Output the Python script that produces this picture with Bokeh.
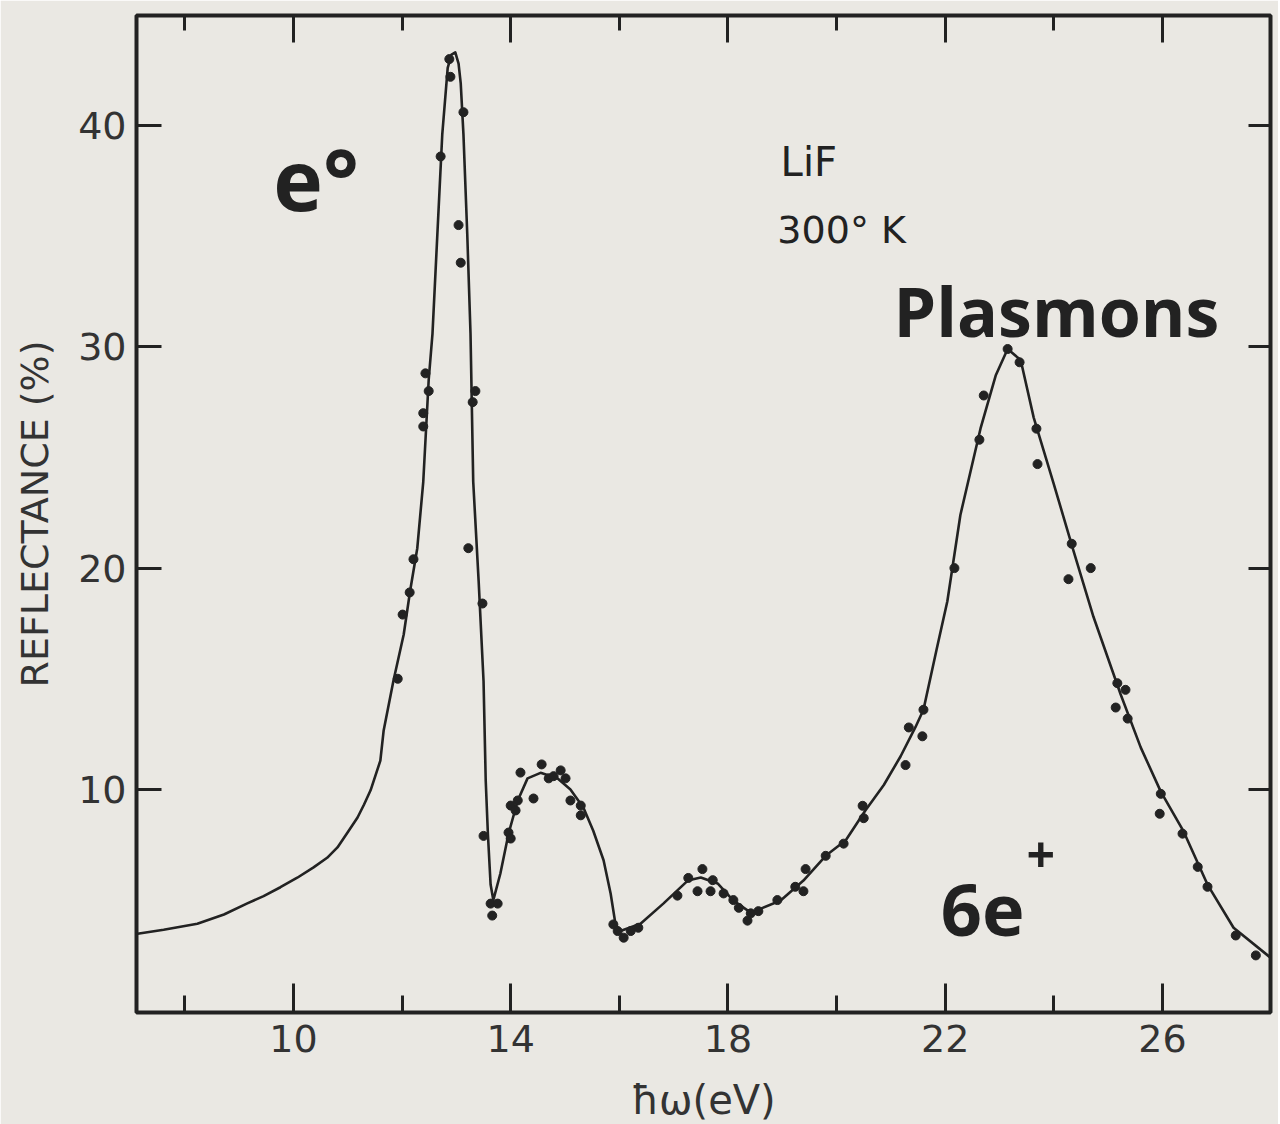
from bokeh.plotting import figure
from bokeh.models import LinearAxis, FixedTicker, Label, Range1d
from bokeh.embed import file_html
from bokeh.resources import INLINE

# ---- data (photon energy in eV, reflectance in %) ----
curve_x = [7.13, 7.61, 8.23, 8.72, 9.15, 9.45, 9.76, 10.07, 10.37, 10.62, 10.81, 10.99,
           11.18, 11.30, 11.42, 11.60, 11.66, 11.84,
           12.03, 12.15, 12.28, 12.39, 12.49, 12.56, 12.65, 12.74, 12.84, 12.91, 12.98,
           13.04, 13.08, 13.13, 13.20, 13.26, 13.31, 13.41, 13.50, 13.54, 13.58, 13.63,
           13.68, 13.81, 13.96, 14.13, 14.31, 14.55, 14.86, 15.10, 15.34, 15.52, 15.71,
           15.84, 15.93, 16.02, 16.39, 16.81, 17.26, 17.50, 17.81, 18.10, 18.42, 18.97,
           19.39, 19.80, 20.17, 20.53, 20.87, 21.18, 21.45, 21.60, 21.84, 22.04, 22.28,
           22.65, 22.93, 23.15, 23.39, 23.63, 24.00, 24.36, 24.73, 25.23, 25.60, 25.97,
           26.39, 26.83, 27.31, 27.99]
curve_y = [3.48, 3.66, 3.93, 4.35, 4.85, 5.18, 5.58, 6.01, 6.48, 6.91, 7.38, 8.03,
           8.73, 9.32, 9.96, 11.3, 12.65, 14.9,
           17.0, 19.0, 20.9, 23.9, 28.5, 30.6, 35.1, 39.6, 42.6, 43.2, 43.3,
           42.8, 41.9, 39.6, 35.1, 30.6, 23.9, 19.4, 14.9, 10.4, 8.0, 5.7,
           5.0, 6.2, 8.0, 9.5, 10.5, 10.75, 10.5, 10.0, 9.17, 8.13, 6.8,
           5.3, 3.9, 3.6, 3.93, 4.84, 5.88, 6.02, 5.75, 4.98, 4.43, 4.98,
           5.88, 7.0, 7.7, 9.05, 10.2, 11.5, 12.8, 13.6, 16.3, 18.5, 22.4,
           26.3, 28.7, 29.9, 29.4, 26.8, 23.8, 20.8, 17.8, 14.3, 11.9, 9.9,
           8.1, 5.7, 3.75, 2.4]

pts_x = [11.92, 12.01, 12.14, 12.21, 12.39, 12.39, 12.43, 12.49, 12.71, 12.87, 12.89,
         13.04, 13.08, 13.13, 13.22, 13.30, 13.35, 13.48, 13.50,
         13.63, 13.66, 13.76, 13.96, 14.00, 14.00, 14.13, 14.09, 14.18, 14.42, 14.57,
         14.70, 14.79, 14.92, 15.01, 15.10, 15.29, 15.29,
         15.89, 15.97, 16.08, 16.21, 16.35, 17.07, 17.27, 17.44, 17.53, 17.68, 17.72,
         17.92, 18.10, 18.20, 18.36, 18.42, 18.56, 18.91, 19.24, 19.39, 19.43, 19.80,
         20.13, 20.48, 20.50, 21.27, 21.33, 21.58, 21.60, 22.17, 22.63, 22.71, 23.15,
         23.37, 23.68, 23.70, 24.27, 24.33, 24.68, 25.14, 25.17, 25.32, 25.36, 25.97,
         25.95, 26.37, 26.65, 26.83, 27.35, 27.72]
pts_y = [15.0, 17.9, 18.9, 20.4, 26.4, 27.0, 28.8, 28.0, 38.6, 43.0, 42.2,
         35.5, 33.8, 40.6, 20.9, 27.5, 28.0, 18.4, 7.9,
         4.84, 4.30, 4.84, 8.05, 7.78, 9.27, 9.50, 9.05, 10.76, 9.59, 11.13,
         10.5, 10.6, 10.86, 10.5, 9.5, 9.27, 8.83,
         3.9, 3.6, 3.3, 3.6, 3.75, 5.2, 6.0, 5.4, 6.4, 5.4, 5.9,
         5.3, 5.0, 4.65, 4.07, 4.4, 4.5, 5.0, 5.6, 5.4, 6.4, 7.0,
         7.55, 9.26, 8.7, 11.1, 12.8, 12.4, 13.6, 20.0, 25.8, 27.8, 29.9,
         29.3, 26.3, 24.7, 19.5, 21.1, 20.0, 13.7, 14.8, 14.5, 13.2, 9.8,
         8.9, 8.0, 6.5, 5.6, 3.4, 2.5]

x_major = [10, 14, 18, 22, 26]
x_minor = [8, 12, 16, 20, 24]
y_major = [10, 20, 30, 40]

BG = "#eae8e3"
INK = "#222222"
LETTER = "DejaVu Sans"
HAND = "Open Sans"

p = figure(frame_width=1134, frame_height=997,
           x_range=Range1d(7.11, 27.99), y_range=Range1d(-0.08, 44.97),
           output_backend="svg", toolbar_location=None,
           min_border_left=136, min_border_right=8, min_border_top=15, min_border_bottom=110,
           background_fill_color=BG, border_fill_color=BG)
p.xgrid.visible = False
p.ygrid.visible = False
p.outline_line_color = INK
p.outline_line_width = 4

def style_axis(ax, ticks, minor, tin, mtin, labels=True):
    ax.ticker = FixedTicker(ticks=ticks, minor_ticks=minor)
    ax.axis_line_color = None
    ax.major_tick_in = tin
    ax.major_tick_out = 0
    ax.minor_tick_in = mtin
    ax.minor_tick_out = 0
    ax.major_tick_line_width = 3
    ax.minor_tick_line_width = 3
    ax.major_tick_line_color = INK
    ax.minor_tick_line_color = INK
    if labels:
        ax.major_label_text_font = LETTER
        ax.major_label_text_font_size = "38px"
        ax.major_label_text_color = "#333333"
    else:
        ax.major_label_text_font_size = "1px"
        ax.major_label_text_color = None
        ax.major_label_standoff = 0

xa = p.xaxis[0]
style_axis(xa, x_major, x_minor, 29, 17)
xa.major_label_standoff = 12
xa.axis_label = "ħω(eV)"
xa.axis_label_text_font = LETTER
xa.axis_label_text_font_size = "40px"
xa.axis_label_text_font_style = "normal"
xa.axis_label_text_color = "#333333"
xa.axis_label_standoff = 22

ya = p.yaxis[0]
style_axis(ya, y_major, [], 25, 0)
ya.major_label_standoff = 10
ya.axis_label = "REFLECTANCE (%)"
ya.axis_label_text_font = LETTER
ya.axis_label_text_font_size = "38px"
ya.axis_label_text_font_style = "normal"
ya.axis_label_text_color = "#333333"
ya.axis_label_standoff = 18

top = LinearAxis()
style_axis(top, x_major, x_minor, 27, 15, labels=False)
p.add_layout(top, "above")
right = LinearAxis()
style_axis(right, y_major, [], 22, 0, labels=False)
p.add_layout(right, "right")

p.line(curve_x, curve_y, line_width=2.6, line_color=INK, line_join="round")
p.scatter(pts_x, pts_y, size=9, fill_color=INK, line_color=INK)

def lab(x, y, text, font, size, style="normal", align="left", baseline="alphabetic"):
    p.add_layout(Label(x=x, y=y, text=text, text_font=font, text_font_size=size,
                       text_font_style=style, text_color=INK, text_align=align,
                       text_baseline=baseline))

lab(9.63, 37.6, "e°", HAND, "84px", "bold")
lab(18.97, 38.33, "LiF", LETTER, "40px")
lab(18.91, 35.26, "300° K", LETTER, "38px")
lab(21.05, 31.63, "Plasmons", HAND, "68px", "bold")
lab(21.92, 4.53, "6e", HAND, "72px", "bold")
lab(23.76, 7.02, "+", HAND, "50px", "bold", align="center", baseline="middle")

open("out.html", "w").write(file_html(p, INLINE))
